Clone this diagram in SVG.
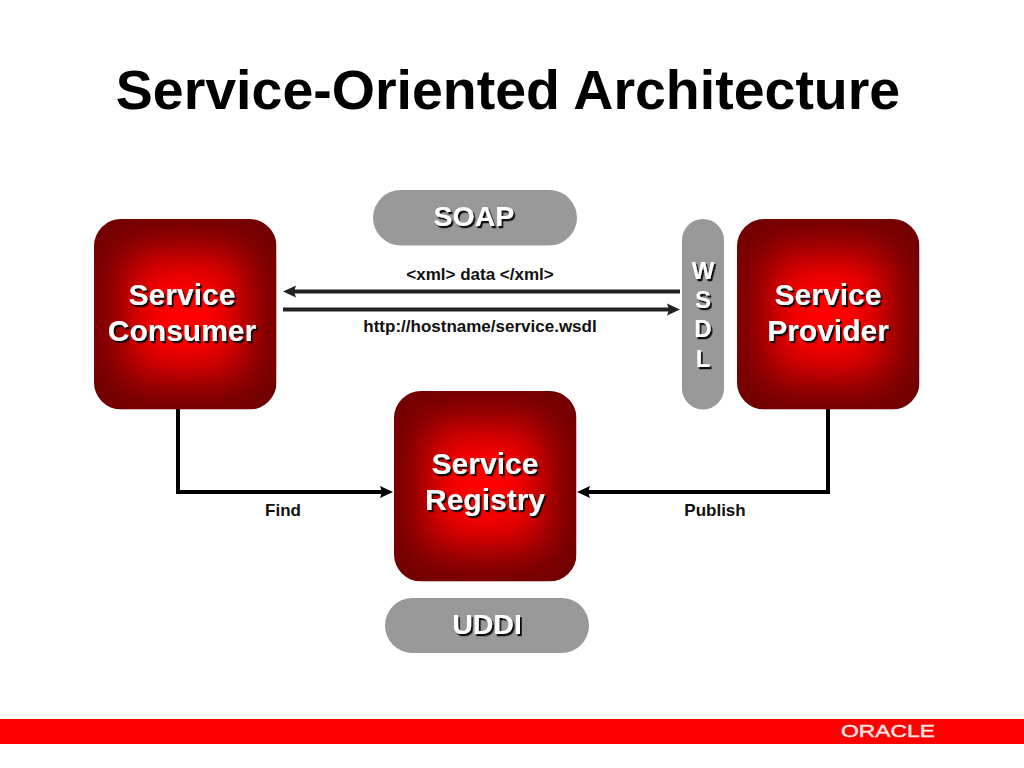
<svg xmlns="http://www.w3.org/2000/svg" width="1024" height="768" viewBox="0 0 1024 768">
<style>
text{font-family:"Liberation Sans",Arial,sans-serif;font-weight:bold;text-anchor:middle}
.title{font-size:55.5px;fill:#000}
.pill{fill:#999}
.big{font-size:30px;fill:#fff;filter:url(#sh)}
.mid{font-size:28.5px}
.let{font-size:24px}
.lab{font-size:17px;fill:#111}
.line{fill:none;stroke:#000;stroke-width:4}
.line2{fill:none;stroke:#222;stroke-width:4}
</style>
<defs>
<filter id="glow" filterUnits="userSpaceOnUse" x="-60" y="-60" width="310" height="320" color-interpolation-filters="sRGB">
<feGaussianBlur stdDeviation="23"/>
</filter>
<clipPath id="boxclip"><rect width="182.500" height="190.500" rx="27"/></clipPath>
<g id="box" clip-path="url(#boxclip)">
<rect width="182.500" height="190.500" fill="#700000"/>
<rect x="32" y="34" width="118.500" height="122.500" fill="#f00" filter="url(#glow)"/>
</g>
<filter id="sh" x="-10%" y="-10%" width="125%" height="130%">
<feDropShadow dx="1.800" dy="2.200" stdDeviation="0.600" flood-color="#111"/>
</filter>
<marker id="ah" markerUnits="userSpaceOnUse" markerWidth="14" markerHeight="14" refX="3" refY="7" orient="auto-start-reverse">
<path d="M0 1L13 7L0 13L2 7z" fill="#000"/>
</marker>
<marker id="ah2" markerUnits="userSpaceOnUse" markerWidth="14" markerHeight="14" refX="3" refY="7" orient="auto-start-reverse">
<path d="M0 1L13 7L0 13L2 7z" fill="#222"/>
</marker>
</defs>
<rect width="1024" height="768" fill="#fff"/>
<text class="title" x="508" y="109">Service-Oriented Architecture</text>
<g id="connectors">
<path class="line2" d="M680 291.500H293" marker-end="url(#ah2)"/>
<path class="line2" d="M283 309.500H670" marker-end="url(#ah2)"/>
<path class="line" d="M178 409V492H383" marker-end="url(#ah)"/>
<path class="line" d="M828 409V492H587" marker-end="url(#ah)"/>
</g>
<g id="soap"><rect class="pill" x="373" y="190" width="204" height="55.500" rx="27.750"/><text class="big mid" x="474" y="226">SOAP</text></g>
<g id="consumer"><use href="#box" x="94" y="219"/><text class="big" x="182" y="305">Service</text><text class="big" x="182" y="341">Consumer</text></g>
<g id="wsdl"><rect class="pill" x="682" y="219" width="42" height="190.500" rx="21"/>
<text class="big let" x="703" y="279">W</text><text class="big let" x="703" y="308">S</text><text class="big let" x="703" y="337">D</text><text class="big let" x="703" y="367">L</text></g>
<g id="provider"><use href="#box" x="737" y="219"/><text class="big" x="828" y="305">Service</text><text class="big" x="828" y="341">Provider</text></g>
<g id="registry"><use href="#box" x="394" y="391"/><text class="big" x="485" y="474">Service</text><text class="big" x="485" y="510">Registry</text></g>
<g id="uddi"><rect class="pill" x="385" y="598" width="204" height="55" rx="27.500"/><text class="big mid" x="487" y="634">UDDI</text></g>
<g id="labels">
<text class="lab" x="480" y="280">&lt;xml&gt; data &lt;/xml&gt;</text>
<text class="lab" x="480" y="332">http://hostname/service.wsdl</text>
<text class="lab" x="283" y="516">Find</text>
<text class="lab" x="715" y="516">Publish</text>
</g>
<g id="footer">
<rect x="0" y="719" width="1024" height="25" fill="#f00"/>
<text x="888" y="737" textLength="94" lengthAdjust="spacingAndGlyphs" style="font-size:16px;font-weight:normal;fill:#f9e6e6;stroke:#f9e6e6;stroke-width:0.400">ORACLE</text>
</g>
</svg>
